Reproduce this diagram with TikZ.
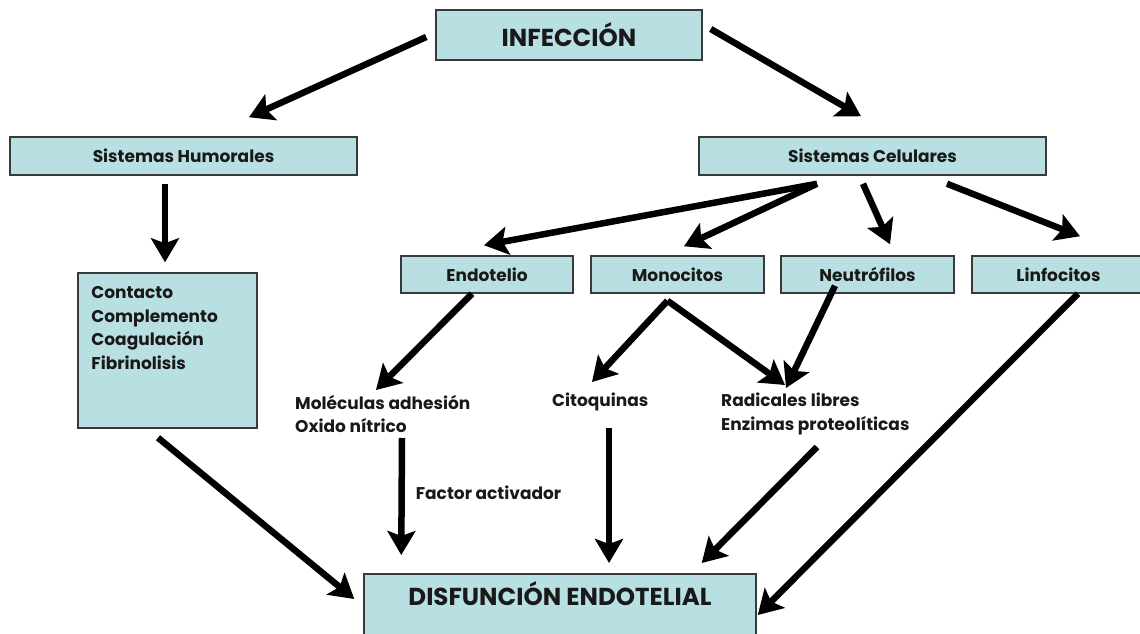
\documentclass[tikz,border=0pt]{standalone}
\usepackage{fontspec}
\setmainfont{Poppins}
\usetikzlibrary{arrows.meta,calc}
\definecolor{cajafondo}{HTML}{B8DFE2}
\definecolor{cajaborde}{HTML}{3A3A3A}
\tikzset{
  texto/.style={font=\bfseries\fontsize{17}{23.5}\selectfont, text=black!90, inner sep=0pt},
  caja/.style={texto, draw=cajaborde, fill=cajafondo, line width=1.5pt, minimum height=37pt},
  grande/.style={font=\bfseries\fontsize{24.5}{28}\selectfont},
  flecha/.style={line width=6.5pt, -{Stealth[length=24pt,width=28pt,inset=5pt]}},
}
\begin{document}
\begin{tikzpicture}[x=1pt,y=-1pt]
\useasboundingbox (0,0) rectangle (1140,634);
\node[caja, grande, minimum width=266pt, minimum height=50pt] (infec) at (569,35) {INFECCIÓN};
\node[caja, minimum width=347pt, minimum height=38pt] (humor) at (183.5,156) {Sistemas Humorales};
\node[caja, minimum width=347pt, minimum height=38pt] (celul) at (872.5,156) {Sistemas Celulares};
\node[caja, minimum width=172pt] (endot) at (487,274.5) {Endotelio};
\node[caja, minimum width=173pt] (monoc) at (677.5,274.5) {Monocitos};
\node[caja, minimum width=173pt] (neutr) at (867.5,274.5) {Neutrófilos};
\node[caja, minimum width=173pt] (linfo) at (1058.5,274.5) {Linfocitos};
\node[caja, minimum width=179pt, minimum height=155pt] (contac) at (167.5,350.5) {};
\node[texto, align=left, anchor=west] (contxt) at ([shift={(14,-22.5)}]contac.west) {Contacto\\Complemento\\Coagulación\\Fibrinolisis};
\node[texto, align=left, anchor=west] (molec) at (295,414) {Moléculas adhesión\\Oxido nítrico};
\node[texto, anchor=west] (citoq) at (552,402) {Citoquinas};
\node[texto, align=left, anchor=west] (radic) at (721,414) {Radicales libres\\Enzimas proteolíticas};
\node[caja, grande, minimum width=392pt, anchor=north, text height=32pt, text depth=68pt] (disf) at (560,573) {DISFUNCIÓN ENDOTELIAL};

\draw[flecha] ([shift={(-9,2)}]infec.west) -- ([shift={(65.5,-19)}]humor.north);
\draw[flecha] ([shift={(8,-6)}]infec.east) -- ([shift={(-11.5,-20)}]celul.north);
\draw[flecha] ([shift={(-18.5,8)}]humor.south) -- ([shift={(-2.5,-10)}]contac.north);
\draw[flecha] ([shift={(-55.5,8)}]celul.south) -- ([shift={(-3,-10)}]endot.north);
\draw[flecha] ([shift={(-55.5,8)}]celul.south) -- ([shift={(6.5,-9)}]monoc.north);
\draw[flecha] ([shift={(-9.5,8)}]celul.south) -- ([shift={(22.5,-11)}]neutr.north);
\draw[flecha] ([shift={(74.5,8)}]celul.south) -- ([shift={(21.5,-19)}]linfo.north);
\draw[flecha] ([shift={(-15,0)}]endot.south) -- ([shift={(81,-24)}]molec.west);
\draw[flecha] ([shift={(-10,7)}]monoc.south) -- ([shift={(40,-20)}]citoq.west);
\draw[flecha] ([shift={(-10,7)}]monoc.south) -- ([shift={(64,-29)}]radic.west);
\draw[flecha] ([shift={(-32.5,-8)}]neutr.south) -- ([shift={(65,-26)}]radic.west);
\draw[flecha] ([shift={(-9.5,9)}]contac.south) -- ([shift={(-9,26)}]disf.north west);
\draw[flecha] ([shift={(107,24)}]molec.west) -- node[texto, right=11pt, pos=0.47] (factor) {Factor activador} ([shift={(38,-18)}]disf.north west);
\draw[flecha] ([shift={(57,26)}]citoq.west) -- ([shift={(49,-10)}]disf.north);
\draw[flecha] ([shift={(96,33)}]radic.west) -- ([shift={(-55,-10)}]disf.north east);
\draw[flecha] ([shift={(19.5,0)}]linfo.south) -- ([shift={(1,42)}]disf.north east);
\end{tikzpicture}
\end{document}
